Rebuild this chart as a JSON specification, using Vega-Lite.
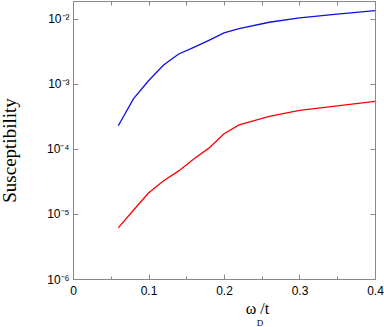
{
  "$schema": "https://vega.github.io/schema/vega-lite/v6.json",
  "width": 302,
  "height": 278,
  "autosize": "none",
  "padding": {"left": 73, "top": 1, "right": 9, "bottom": 48},
  "background": "white",
  "config": {
    "view": {"stroke": "#888888", "strokeWidth": 1},
    "axis": {
      "grid": false,
      "domainColor": "#888888",
      "tickColor": "#888888",
      "labelFont": "Liberation Sans",
      "labelFontSize": 12,
      "labelColor": "#000000",
      "titleColor": "#000000",
      "titleFontWeight": "normal"
    }
  },
  "data": {
    "values": [
      {"x": 0.06, "y": 0.000228, "s": "blue"},
      {"x": 0.08, "y": 0.00059, "s": "blue"},
      {"x": 0.10, "y": 0.00112, "s": "blue"},
      {"x": 0.12, "y": 0.00196, "s": "blue"},
      {"x": 0.14, "y": 0.00289, "s": "blue"},
      {"x": 0.16, "y": 0.00366, "s": "blue"},
      {"x": 0.18, "y": 0.0047, "s": "blue"},
      {"x": 0.20, "y": 0.0061, "s": "blue"},
      {"x": 0.22, "y": 0.0071, "s": "blue"},
      {"x": 0.26, "y": 0.0089, "s": "blue"},
      {"x": 0.30, "y": 0.0104, "s": "blue"},
      {"x": 0.35, "y": 0.0119, "s": "blue"},
      {"x": 0.40, "y": 0.0134, "s": "blue"},
      {"x": 0.06, "y": 0.0000061, "s": "red"},
      {"x": 0.08, "y": 0.0000114, "s": "red"},
      {"x": 0.10, "y": 0.000021, "s": "red"},
      {"x": 0.12, "y": 0.0000325, "s": "red"},
      {"x": 0.14, "y": 0.000046, "s": "red"},
      {"x": 0.16, "y": 0.00007, "s": "red"},
      {"x": 0.18, "y": 0.000103, "s": "red"},
      {"x": 0.20, "y": 0.000172, "s": "red"},
      {"x": 0.22, "y": 0.000235, "s": "red"},
      {"x": 0.26, "y": 0.000318, "s": "red"},
      {"x": 0.30, "y": 0.000393, "s": "red"},
      {"x": 0.35, "y": 0.00046, "s": "red"},
      {"x": 0.40, "y": 0.00054, "s": "red"}
    ]
  },
  "layer": [
    {
      "mark": {"type": "line", "strokeWidth": 1.3},
      "encoding": {
        "x": {
          "field": "x", "type": "quantitative",
          "scale": {"domain": [0, 0.4], "nice": false, "zero": false},
          "axis": {
            "orient": "bottom",
            "values": [0, 0.1, 0.2, 0.3, 0.4],
            "labelExpr": "datum.value == 0 ? '0' : format(datum.value, '.1f')",
            "tickSize": -5,
            "labelPadding": 11,
            "labelFlush": false,
            "labelOverlap": false,
            "title": "ω /t",
            "titleFont": "Liberation Serif",
            "titleFontSize": 16,
            "titleX": 184,
            "titleY": 34,
            "titleBaseline": "alphabetic",
            "titleAlign": "center"
          }
        },
        "y": {
          "field": "y", "type": "quantitative",
          "scale": {"type": "log", "domain": [0.000001, 0.0189], "nice": false},
          "axis": {
            "orient": "left",
            "values": [0.000001, 0.00001, 0.0001, 0.001, 0.01],
            "labelExpr": "'10' + ['⁰','⁻¹','⁻²','⁻³','⁻⁴','⁻⁵','⁻⁶'][round(-log(datum.value)/LN10)]",
            "tickSize": -5,
            "labelPadding": 9,
            "labelFlush": false,
            "labelOverlap": false,
            "title": "Susceptibility",
            "titleFont": "Liberation Serif",
            "titleFontSize": 19,
            "titleAngle": -90,
            "titleX": -64,
            "titleY": 149,
            "titleBaseline": "middle",
            "titleAlign": "center"
          }
        },
        "color": {
          "field": "s", "type": "nominal",
          "scale": {"domain": ["blue", "red"], "range": ["#1010e0", "#ff0000"]},
          "legend": null
        }
      }
    },
    {
      "mark": {"type": "point", "opacity": 0},
      "encoding": {
        "x": {
          "field": "x", "type": "quantitative",
          "axis": {
            "orient": "top",
            "values": [0.05, 0.1, 0.15, 0.2, 0.25, 0.3, 0.35],
            "tickSize": -4,
            "labels": false,
            "title": null
          }
        },
        "y": {
          "field": "y", "type": "quantitative",
          "axis": {
            "orient": "right",
            "values": [0.000001, 0.00001, 0.0001, 0.001, 0.01],
            "tickSize": -5,
            "labels": false,
            "title": null
          }
        }
      }
    },
    {
      "mark": {"type": "point", "opacity": 0},
      "encoding": {
        "x": {
          "field": "x", "type": "quantitative",
          "axis": {
            "orient": "bottom",
            "values": [0.05, 0.15, 0.25, 0.35],
            "tickSize": -3,
            "labels": false,
            "domain": false,
            "title": "D",
            "titleFont": "Liberation Serif",
            "titleFontSize": 9,
            "titleX": 186.5,
            "titleY": 46,
            "titleBaseline": "alphabetic",
            "titleAlign": "center"
          }
        },
        "y": {"field": "y", "type": "quantitative", "axis": null}
      }
    }
  ],
  "resolve": {"axis": {"x": "independent", "y": "independent"}}
}
